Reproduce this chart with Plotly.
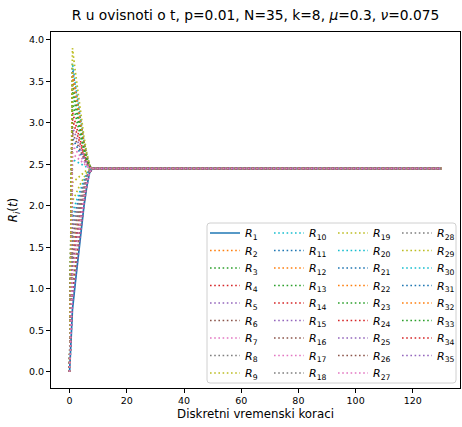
import plotly.graph_objects as go

# ---- data ----
N_STEPS = 131               # discrete time steps 0..130
R_EQ = 2.45                 # common equilibrium value reached after ~8 steps

# early part of every series, t = 0..8 (afterwards constant at R_EQ)
R_EARLY = {
    1:  [0, 0.75, 1.07, 1.40, 1.70, 1.99, 2.23, 2.40, 2.45],
    2:  [0, 3.56, 3.35, 3.14, 2.94, 2.75, 2.59, 2.48, 2.45],
    3:  [0, 3.48, 3.28, 3.09, 2.90, 2.73, 2.58, 2.48, 2.45],
    4:  [0, 3.13, 3.00, 2.87, 2.75, 2.63, 2.54, 2.47, 2.45],
    5:  [0, 2.95, 2.86, 2.76, 2.67, 2.59, 2.52, 2.47, 2.45],
    6:  [0, 2.88, 2.80, 2.72, 2.64, 2.57, 2.51, 2.46, 2.45],
    7:  [0, 2.74, 2.68, 2.63, 2.58, 2.53, 2.49, 2.46, 2.45],
    8:  [0, 1.74, 1.87, 2.01, 2.14, 2.26, 2.36, 2.43, 2.45],
    9:  [0, 3.90, 3.62, 3.35, 3.09, 2.84, 2.64, 2.49, 2.45],
    10: [0, 3.72, 3.48, 3.24, 3.01, 2.79, 2.62, 2.49, 2.45],
    11: [0, 3.66, 3.43, 3.20, 2.98, 2.78, 2.61, 2.48, 2.45],
    12: [0, 3.61, 3.39, 3.17, 2.96, 2.76, 2.60, 2.48, 2.45],
    13: [0, 3.38, 3.20, 3.03, 2.86, 2.70, 2.57, 2.48, 2.45],
    14: [0, 3.04, 2.93, 2.82, 2.71, 2.61, 2.53, 2.47, 2.45],
    15: [0, 1.67, 1.82, 1.97, 2.11, 2.24, 2.35, 2.43, 2.45],
    16: [0, 1.60, 1.76, 1.92, 2.08, 2.22, 2.34, 2.43, 2.45],
    17: [0, 2.64, 2.60, 2.57, 2.54, 2.50, 2.48, 2.45, 2.45],
    18: [0, 1.52, 1.70, 1.87, 2.04, 2.20, 2.33, 2.42, 2.45],
    19: [0, 2.28, 2.31, 2.34, 2.38, 2.40, 2.43, 2.44, 2.45],
    20: [0, 2.56, 2.54, 2.52, 2.50, 2.48, 2.46, 2.45, 2.45],
    21: [0, 2.82, 2.75, 2.68, 2.61, 2.55, 2.50, 2.46, 2.45],
    22: [0, 1.45, 1.64, 1.83, 2.01, 2.18, 2.32, 2.42, 2.45],
    23: [0, 3.25, 3.10, 2.95, 2.80, 2.67, 2.55, 2.47, 2.45],
    24: [0, 1.38, 1.58, 1.79, 1.98, 2.16, 2.31, 2.42, 2.45],
    25: [0, 1.30, 1.52, 1.74, 1.94, 2.14, 2.30, 2.42, 2.45],
    26: [0, 1.24, 1.47, 1.70, 1.92, 2.12, 2.29, 2.41, 2.45],
    27: [0, 1.17, 1.41, 1.66, 1.89, 2.10, 2.28, 2.41, 2.45],
    28: [0, 1.10, 1.36, 1.61, 1.86, 2.09, 2.27, 2.41, 2.45],
    29: [0, 2.06, 2.13, 2.21, 2.28, 2.34, 2.40, 2.44, 2.45],
    30: [0, 1.92, 2.02, 2.12, 2.22, 2.31, 2.38, 2.44, 2.45],
    31: [0, 1.82, 1.94, 2.06, 2.17, 2.28, 2.37, 2.43, 2.45],
    32: [0, 1.04, 1.31, 1.58, 1.83, 2.07, 2.27, 2.41, 2.45],
    33: [0, 0.97, 1.25, 1.53, 1.80, 2.05, 2.26, 2.41, 2.45],
    34: [0, 0.90, 1.19, 1.49, 1.77, 2.03, 2.25, 2.40, 2.45],
    35: [0, 0.82, 1.13, 1.44, 1.73, 2.01, 2.24, 2.40, 2.45],
}

X_TICKS = [0, 20, 40, 60, 80, 100, 120]
Y_TICKS = [0.0, 0.5, 1.0, 1.5, 2.0, 2.5, 3.0, 3.5, 4.0]
TITLE = "R u ovisnoti o t, p=0.01, N=35, k=8, <i>μ</i>=0.3, <i>ν</i>=0.075"
X_LABEL = "Diskretni vremenski koraci"
Y_LABEL = "<i>R<sub>i</sub></i>(<i>t</i>)"

# ---- styling ----
TAB10 = ["#1f77b4", "#ff7f0e", "#2ca02c", "#d62728", "#9467bd",
         "#8c564b", "#e377c2", "#7f7f7f", "#bcbd22", "#17becf"]
FONT = "DejaVu Sans"
LEG_ROWS = 9

W, H = 462, 427
ML, MR, MT, MB = 51, 2, 32, 39
PW, PH = W - ML - MR, H - MT - MB

def px_x(p):
    return (p - ML) / PW

def px_y(p):
    return (H - MB - p) / PH

steps = list(range(N_STEPS))
series = {}
for i in range(1, 36):
    early = R_EARLY[i]
    series[i] = early + [R_EQ] * (N_STEPS - len(early))

fig = go.Figure()
# add traces row by row so that each legend row (a horizontal legend)
# reads R_k, R_{k+9}, R_{k+18}, R_{k+27} like matplotlib's column-major legend
for row in range(LEG_ROWS):
    legend_id = "legend" if row == 0 else f"legend{row + 1}"
    for col in range(4):
        i = row + 1 + col * LEG_ROWS
        if i > 35:
            continue
        fig.add_trace(go.Scatter(
            x=steps, y=series[i], mode="lines",
            name=f"<i>R</i><sub>{i}</sub>",
            line=dict(color=TAB10[(i - 1) % 10], width=1.7,
                      dash="solid" if i == 1 else "1.6px,2.6px"),
            legend=legend_id,
        ))

all_vals = [v for s in series.values() for v in s]
xmin, xmax = min(steps), max(steps)
ymin, ymax = min(all_vals), max(all_vals)
xpad = 0.05 * (xmax - xmin)
ypad = 0.05 * (ymax - ymin)

legend_common = dict(
    bgcolor="rgba(0,0,0,0)", borderwidth=0,
    font=dict(family=FONT, size=11, color="black"),
    xanchor="left", yanchor="middle", orientation="h",
    entrywidth=19, entrywidthmode="pixels", itemwidth=30,
)
layout_legends = {}
for row in range(LEG_ROWS):
    legend_id = "legend" if row == 0 else f"legend{row + 1}"
    layout_legends[legend_id] = dict(x=px_x(205), y=px_y(233 + 17.5 * row),
                                     **legend_common)

# rounded legend frame (matplotlib style)
x0, x1 = px_x(207), px_x(456)
y0, y1 = px_y(383), px_y(223)
rx, ry = 3 / PW, 3 / PH
path = (f"M {x0+rx},{y0} L {x1-rx},{y0} Q {x1},{y0} {x1},{y0+ry} "
        f"L {x1},{y1-ry} Q {x1},{y1} {x1-rx},{y1} L {x0+rx},{y1} "
        f"Q {x0},{y1} {x0},{y1-ry} L {x0},{y0+ry} Q {x0},{y0} {x0+rx},{y0} Z")

fig.update_layout(
    width=W, height=H,
    margin=dict(l=ML, r=MR, t=MT, b=MB, pad=0, autoexpand=False),
    paper_bgcolor="white", plot_bgcolor="white",
    font=dict(family=FONT, color="black"),
    title=dict(text=TITLE, x=0.5, xref="paper", xanchor="center",
               y=1 - 15 / H, yref="container", yanchor="middle",
               font=dict(family=FONT, size=13.8, color="black")),
    showlegend=True,
    shapes=[dict(type="path", path=path, xref="paper", yref="paper",
                 line=dict(color="#d0d0d0", width=1),
                 fillcolor="rgba(255,255,255,0.8)", layer="above")],
    **layout_legends,
)

axis_common = dict(showgrid=False, zeroline=False, showline=True, mirror=True,
                   linecolor="black", linewidth=1, ticks="outside", ticklen=4,
                   tickwidth=1, tickcolor="black",
                   tickfont=dict(family=FONT, size=9.5, color="black"))
fig.update_xaxes(range=[xmin - xpad, xmax + xpad], tickvals=X_TICKS,
                 title=dict(text=X_LABEL, font=dict(family=FONT, size=11.8), standoff=4),
                 **axis_common)
fig.update_yaxes(range=[ymin - ypad, ymax + ypad], tickvals=Y_TICKS, tickformat=".1f",
                 title=dict(text=Y_LABEL, font=dict(family=FONT, size=11.8), standoff=8),
                 **axis_common)

fig.write_html("out.html", config={"displayModeBar": False},
               post_script="document.body.style.margin='0';document.body.style.overflow='hidden';")
